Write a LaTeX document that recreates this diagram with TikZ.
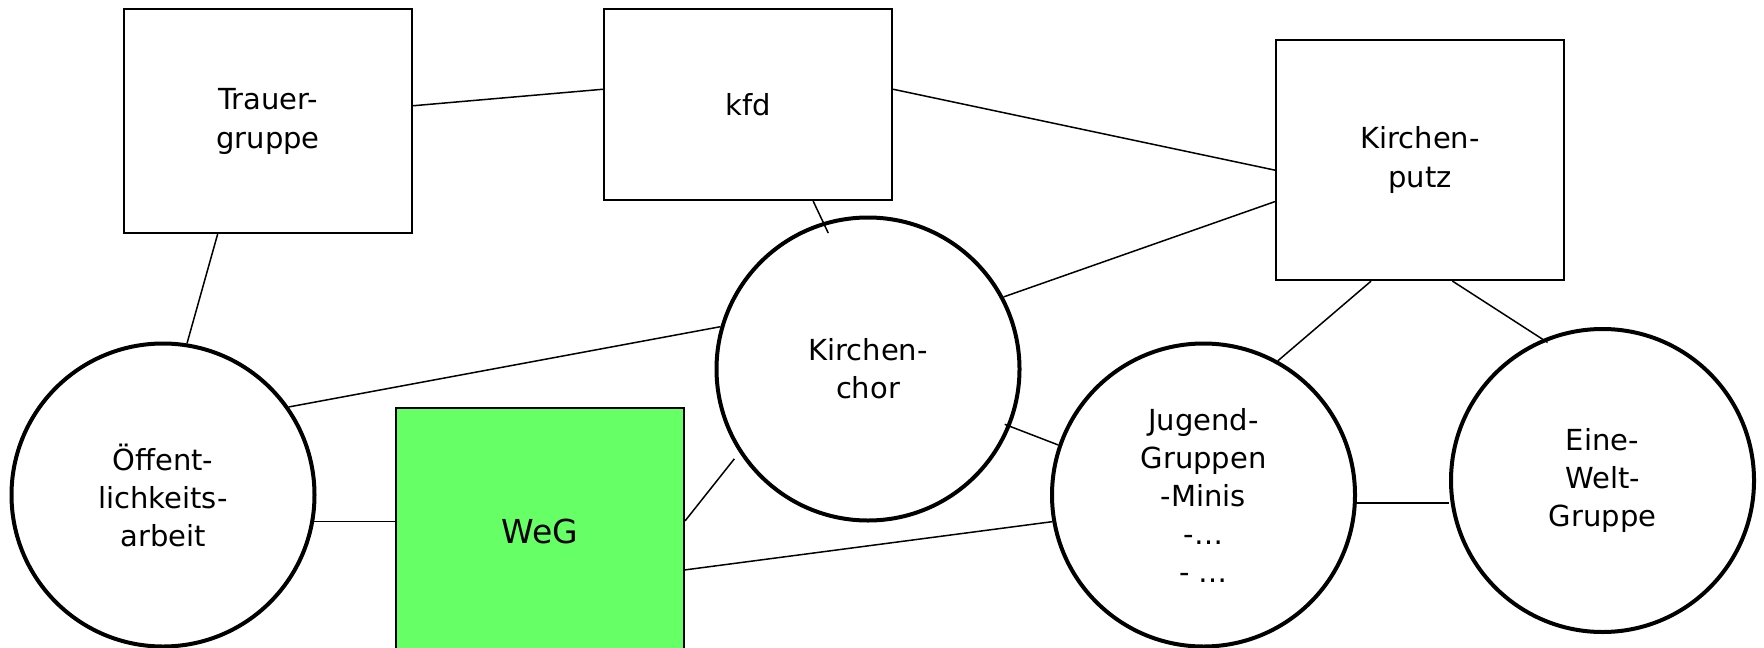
\documentclass[tikz,border=0pt]{standalone}
\usepackage{fontspec}
\setmainfont{DejaVu Sans}
\definecolor{wegfarbe}{RGB}{102,255,102}
\tikzset{
  gruppe/.style={rectangle,draw,line width=1.1pt,minimum width=144pt,align=center,font=\fontsize{14.5}{19.5}\selectfont},
  kreis/.style={circle,draw,line width=2pt,minimum size=151.5pt,inner sep=0pt,align=center,font=\fontsize{14.5}{19}\selectfont},
  verbindung/.style={line width=0.75pt}
}

\begin{document}
\begin{tikzpicture}[x=0.5pt,y=-0.5pt]
  \useasboundingbox (0,0) rectangle (1764,647);
  \clip (0,0) rectangle (1764,647);
  % Kaesten
  \node[gruppe, minimum height=112pt] (trauer) at (268,121) {Trauer-\\gruppe};
  \node[gruppe, minimum height=95.5pt] (kfd) at (748,104.5) {kfd};
  \node[gruppe, minimum height=120pt] (putz) at (1420,160) {Kirchen-\\putz};
  \node[gruppe, minimum height=123pt, fill=wegfarbe, font=\fontsize{16.5}{19}\selectfont] (weg) at (540,531) {WeG};
  % Kreise
  \node[kreis] (oeff) at (163,495) {Öffent-\\lichkeits-\\arbeit};
  \node[kreis] (chor) at (868,369) {Kirchen-\\chor};
  \node[kreis] (jugend) at (1203.5,495) {Jugend-\\Gruppen\\-Minis\\-…\\- …};
  \node[kreis] (eine) at (1602.5,480.5) {Eine-\\Welt-\\Gruppe};
  % Verbindungen
  \draw[verbindung] (trauer.6) -- (kfd.174);
  \draw[verbindung] (kfd.6) -- (putz.184);
  \draw[verbindung] (putz.196) -- (chor.28);
  \draw[verbindung, shorten >=-6pt] (kfd.-56) -- (chor.107);
  \draw[verbindung] (trauer.246) -- (oeff.81);
  \draw[verbindung] (oeff.35) -- (chor.164);
  \draw[verbindung] (oeff.350) -- (oeff.350 -| weg.west);
  \draw[verbindung, shorten >=4pt] (weg.4) -- (chor.213);
  \draw[verbindung] (weg.-15) -- (jugend.190);
  \draw[verbindung, shorten <=-3pt] (chor.-22) -- (jugend.161);
  \draw[verbindung] (putz.248) -- (jugend.61);
  \draw[verbindung, shorten >=-3pt] (putz.-75) -- (eine.113);
  \draw[verbindung] (jugend.357) -- (jugend.357 -| eine.west);
\end{tikzpicture}
\end{document}
